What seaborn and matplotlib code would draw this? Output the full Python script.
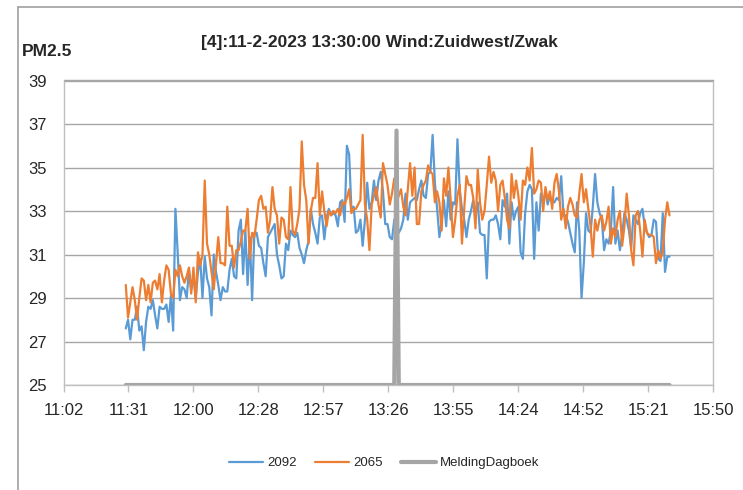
import numpy as np
import pandas as pd
import seaborn as sns
from matplotlib import pyplot as plt
from matplotlib.lines import Line2D

# measurement start, one reading per minute
start_time = "11:30"

sensor_2092 = [
    27.6, 28.0, 27.1, 28.0, 28.0, 28.6, 27.5, 27.7, 26.6, 27.9,
    28.6, 28.5, 28.9, 28.2, 27.6, 28.6, 28.5, 28.5, 28.7, 27.9,
    29.1, 27.5, 33.1, 31.1, 28.9, 29.5, 29.4, 29.0, 30.3, 29.4,
    30.0, 29.0, 30.2, 30.8, 29.0, 30.9, 29.9, 29.5, 28.2, 31.0,
    30.2, 29.6, 28.9, 29.5, 29.3, 29.3, 30.3, 30.8, 30.0, 29.9,
    32.1, 32.6, 30.1, 32.1, 29.6, 31.8, 28.9, 32.0, 32.0, 31.4,
    31.3, 30.6, 30.0, 31.8, 32.0, 32.2, 32.4, 31.0, 30.5, 29.9,
    30.0, 31.5, 31.2, 32.1, 31.9, 31.8, 32.0, 31.3, 31.0, 30.6,
    31.2, 31.6, 33.1, 32.4, 32.0, 31.5, 32.7, 32.8, 31.7, 32.7,
    33.1, 32.8, 32.9, 32.8, 32.3, 33.4, 33.5, 32.5, 36.0, 35.6,
    33.1, 33.2, 32.0, 32.1, 32.6, 31.4, 32.6, 34.3, 33.1, 33.4,
    34.4, 33.5, 34.4, 34.8, 33.9, 32.4, 32.4, 31.8, 31.7, 32.6,
    32.5, 32.0, 32.2, 32.6, 33.8, 32.6, 33.4, 33.5, 33.6, 33.5,
    34.0, 34.4, 33.7, 33.6, 34.7, 34.8, 36.5, 34.3, 33.1, 31.8,
    32.5, 33.5, 32.3, 33.9, 32.6, 33.4, 33.3, 36.3, 34.0, 33.1,
    32.6, 31.8, 32.6, 33.0, 33.5, 32.8, 33.4, 32.0, 31.9, 31.9,
    29.9, 32.5, 32.6, 32.6, 32.8, 32.4, 31.7, 33.5, 33.2, 33.8,
    31.5, 33.4, 32.6, 33.0, 33.2, 31.1, 30.8, 32.9, 33.9, 34.2,
    34.0, 30.8, 33.4, 32.1, 33.8, 33.4, 33.9, 33.3, 33.7, 33.4,
    33.4, 33.6, 33.5, 34.6, 32.8, 32.8, 32.5, 32.0, 31.5, 31.1,
    33.4, 32.1, 29.0, 30.6, 32.9, 32.1, 32.0, 33.2, 34.7, 33.4,
    32.9, 32.6, 31.2, 31.7, 31.5, 32.1, 34.1, 31.5, 32.1, 31.2,
    31.9, 32.9, 32.6, 32.1, 31.3, 32.8, 32.6, 32.4, 32.9, 33.1,
    32.3, 32.0, 31.8, 31.9, 32.6, 32.5, 30.8, 30.7, 32.9, 30.2,
    30.9, 30.9,
]

sensor_2065 = [
    29.6, 28.1, 28.8, 29.5, 28.9, 28.0, 29.0, 29.9, 29.8, 28.9,
    29.6, 28.8, 29.7, 29.8, 29.4, 30.1, 28.8, 29.8, 30.5, 30.3,
    29.2, 29.0, 30.3, 30.0, 30.5, 30.0, 29.7, 30.0, 30.4, 29.2,
    30.4, 28.8, 31.1, 30.5, 31.0, 34.4, 31.5, 31.0, 30.2, 29.4,
    30.6, 31.8, 30.6, 30.6, 30.5, 33.2, 31.4, 31.4, 30.4, 31.2,
    31.2, 31.6, 32.1, 32.1, 33.1, 30.8, 32.0, 31.8, 32.6, 33.5,
    33.7, 33.1, 33.2, 32.0, 32.6, 34.1, 33.1, 32.8, 31.5, 32.7,
    32.6, 31.8, 31.7, 34.1, 32.1, 31.9, 32.4, 33.1, 36.2, 34.2,
    33.5, 31.5, 33.0, 33.6, 33.6, 35.2, 32.8, 33.9, 33.0, 32.3,
    33.0, 32.8, 33.0, 32.9, 33.1, 32.8, 33.4, 33.3, 33.6, 34.0,
    32.9, 33.1, 33.1, 33.3, 33.5, 36.5, 33.3, 32.6, 31.2, 33.3,
    33.7, 34.1, 33.3, 32.7, 35.2, 34.7, 34.2, 33.3, 33.8, 34.5,
    33.4, 33.7, 34.0, 33.2, 32.8, 34.0, 35.2, 33.7, 35.0, 32.4,
    32.4, 33.9, 34.2, 34.4, 35.1, 34.8, 34.7, 33.4, 33.9, 33.4,
    32.1, 34.5, 33.7, 35.0, 33.5, 31.8, 32.6, 33.7, 34.2, 31.5,
    33.1, 34.6, 34.2, 34.2, 33.6, 32.2, 34.9, 33.4, 32.6, 33.0,
    34.2, 35.5, 34.3, 34.8, 34.4, 33.0, 34.2, 34.4, 33.6, 32.6,
    32.2, 34.7, 33.6, 34.4, 33.7, 32.6, 34.4, 34.2, 35.0, 34.4,
    35.9, 33.8, 34.0, 34.4, 34.3, 33.0, 34.1, 33.5, 33.9, 33.1,
    34.3, 34.7, 33.9, 32.6, 33.1, 32.2, 33.2, 33.6, 33.3, 32.8,
    32.7, 33.8, 34.7, 33.4, 34.0, 33.1, 32.3, 30.9, 32.6, 32.1,
    32.6, 32.8, 32.1, 32.5, 33.2, 31.5, 32.2, 31.8, 32.6, 33.0,
    31.4, 32.3, 33.8, 32.8, 31.2, 30.5, 32.8, 33.0, 32.1, 30.9,
    32.6, 32.0, 31.9, 31.9, 31.8, 30.6, 31.2, 30.8, 31.1, 32.6,
    33.4, 32.8,
]

# logbook report: flat baseline with a single marker at the report time
melding_time = "13:30"
melding_peak = 36.7
melding_base = 25.0

x_tick_labels = ["11:02", "11:31", "12:00", "12:28", "12:57", "13:26",
                 "13:55", "14:24", "14:52", "15:21", "15:50"]
y_ticks = [25, 27, 29, 31, 33, 35, 37, 39]

colors = {"2092": "#5B9BD5", "2065": "#ED7D31", "MeldingDagboek": "#A5A5A5"}
widths = {"2092": 1.6, "2065": 1.6, "MeldingDagboek": 3.0}

day = "2023-02-11 "
times = pd.date_range(day + start_time, periods=len(sensor_2092), freq="min")
minutes = times.hour * 60 + times.minute
melding = np.where(times == pd.Timestamp(day + melding_time), melding_peak, melding_base)

df = pd.DataFrame({"minute": minutes, "2092": sensor_2092,
                   "2065": sensor_2065, "MeldingDagboek": melding})
df = df.melt(id_vars="minute", var_name="serie", value_name="pm25")

sns.set_style("white")
plt.rcParams["font.family"] = ["Liberation Sans", "DejaVu Sans"]

W, H = 743, 490
fig = plt.figure(figsize=(W / 100, H / 100), dpi=100)
ax = fig.add_axes([63.5 / W, 1 - 385 / H, (713.3 - 63.5) / W, (385 - 80.5) / H])

for name in ["2092", "2065", "MeldingDagboek"]:
    sns.lineplot(data=df[df["serie"] == name], x="minute", y="pm25", ax=ax,
                 color=colors[name], linewidth=widths[name], label=name,
                 legend=False, zorder=3 if name != "MeldingDagboek" else 4)

# excel style axis: 0.02 day steps starting at 0.46 day
x0 = 0.46 * 1440
step = 0.02 * 1440
x_ticks = [x0 + k * step for k in range(len(x_tick_labels))]
ax.set_xlim(x_ticks[0], x_ticks[-1])
ax.set_ylim(y_ticks[0], y_ticks[-1])
ax.set_xticks(x_ticks)
ax.set_xticklabels(x_tick_labels)
ax.set_yticks(y_ticks)
ax.set_xlabel("")
ax.set_ylabel("")

ax.yaxis.grid(True, color="#A6A6A6", linewidth=1.0)
ax.set_axisbelow(True)
for side in ["left", "right", "bottom"]:
    ax.spines[side].set_color("#BFBFBF")
    ax.spines[side].set_linewidth(1.0)
ax.spines["top"].set_color("#A6A6A6")
ax.spines["top"].set_linewidth(1.0)
ax.tick_params(axis="x", direction="out", length=5, width=1, color="#BFBFBF",
               labelsize=12, pad=8, bottom=True)
ax.tick_params(axis="y", length=0, labelsize=12, pad=12)

fig.text(379 / W, 1 - 42 / H, "[4]:11-2-2023 13:30:00 Wind:Zuidwest/Zwak",
         ha="center", va="center", fontsize=12.5, fontweight="bold")
fig.text(22 / W, 1 - 51 / H, "PM2.5", ha="left", va="center",
         fontsize=12.5, fontweight="bold")

handles, labels = ax.get_legend_handles_labels()
fig.legend(handles, labels, loc="center", bbox_to_anchor=(384 / W, 1 - 463 / H),
           ncol=3, frameon=False, fontsize=9.5, handlelength=2.6,
           columnspacing=1.4, handletextpad=0.3)

# chart area outline
fig.add_artist(Line2D([18 / W, 18 / W], [0, 1 - 7 / H], color="#A0A0A0", linewidth=1.2))
fig.add_artist(Line2D([18 / W, 1], [1 - 7 / H, 1 - 7 / H], color="#A0A0A0", linewidth=1.2))

fig.savefig("out.png", dpi=100)
